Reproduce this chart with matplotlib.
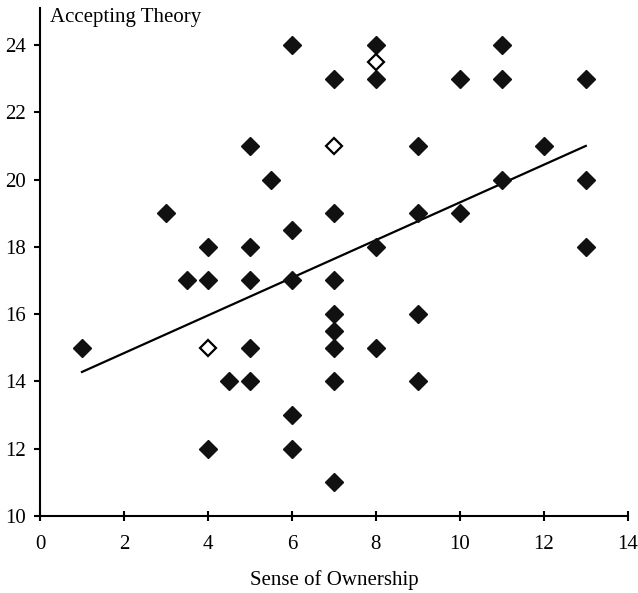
import matplotlib
matplotlib.use("Agg")
import matplotlib.pyplot as plt
import numpy as np

plt.rcParams['font.family'] = ['Liberation Serif', 'DejaVu Serif']

# filled points (x = Sense of Ownership, y = Accepting Theory)
ownership = [1, 3, 3.5, 4, 4, 4, 4.5, 5, 5, 5, 5, 5, 5.5,
             6, 6, 6, 6, 6, 7, 7, 7, 7, 7, 7, 7, 7,
             8, 8, 8, 8, 9, 9, 9, 9, 10, 10, 11, 11, 11, 12, 13, 13, 13]
accepting = [15, 19, 17, 18, 17, 12, 14, 21, 18, 17, 15, 14, 20,
             24, 18.5, 17, 13, 12, 23, 19, 17, 16, 15.5, 15, 14, 11,
             24, 23, 18, 15, 21, 19, 16, 14, 23, 19, 24, 23, 20, 21, 23, 20, 18]

# open (hollow) points
open_x = [4, 7, 8]
open_y = [15, 21, 23.5]

# trend line as drawn in the reference
trend_x = [1, 13]
trend_y = [14.28, 21.0]

fig = plt.figure(figsize=(6.38, 5.93), dpi=100)
ax = fig.add_axes([0.0627, 0.130, 0.9213, 0.8565])

ax.plot(trend_x, trend_y, color='black', lw=1.6, zorder=2)
ax.plot(ownership, accepting, 'D', color='#111111', ms=9.5, mec='#111111', zorder=3)
ax.plot(open_x, open_y, 'D', mfc='white', mec='black', mew=1.6, ms=8.5, zorder=4)

ax.set_xlim(0, 14)
ax.set_ylim(10, 25.1)
ax.set_xticks(range(0, 15, 2))
ax.set_yticks(range(10, 25, 2))
for s in ['top', 'right']:
    ax.spines[s].set_visible(False)
for s in ['left', 'bottom']:
    ax.spines[s].set_linewidth(1.5)
ax.tick_params(axis='x', direction='inout', length=7, width=1.5, labelsize=15, pad=10)
ax.tick_params(axis='y', direction='out', length=4, width=1.5, labelsize=15, pad=6)

ax.text(0.017, 1.0, 'Accepting Theory', transform=ax.transAxes, fontsize=15,
        va='top', ha='left')
ax.set_xlabel('Sense of Ownership', fontsize=15, labelpad=12)

fig.savefig('out.png', dpi=100)
